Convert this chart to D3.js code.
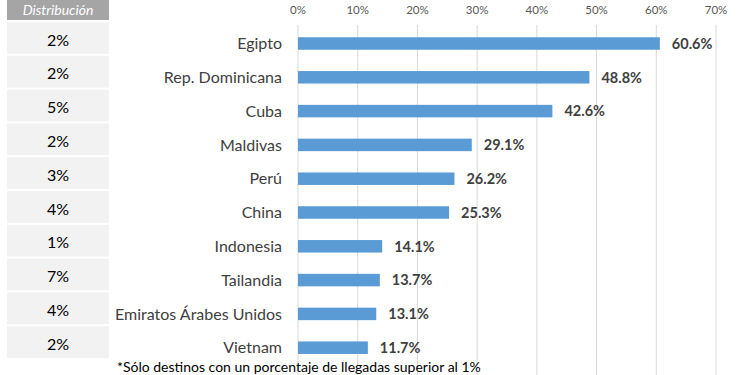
<!DOCTYPE html>
<html>
<head>
<meta charset="utf-8">
<script src="https://cdn.jsdelivr.net/npm/d3@7"></script>
<style>
  body { margin: 0; background: #fff; }
  svg { display: block; font-family: Lato, "Open Sans", sans-serif; }
</style>
</head>
<body>
<div id="chart"></div>
<script>
var paises = ["Egipto", "Rep. Dominicana", "Cuba", "Maldivas", "Perú", "China",
  "Indonesia", "Tailandia", "Emiratos Árabes Unidos", "Vietnam"];
var valores = [60.6, 48.8, 42.6, 29.1, 26.2, 25.3, 14.1, 13.7, 13.1, 11.7];
var distribucion = ["2%", "2%", "5%", "2%", "3%", "4%", "1%", "7%", "4%", "2%"];
var ticks = [0, 10, 20, 30, 40, 50, 60, 70];

var width = 750, height = 375;

var svg = d3.select("#chart").append("svg")
  .attr("width", width)
  .attr("height", height);

var x = d3.scaleLinear().domain([0, 70]).range([298, 716]);
var y = d3.scaleBand().domain(paises).range([26.6, 364.6]).paddingInner(0.63).paddingOuter(0.315);

// gridlines
svg.append("g").selectAll("line")
  .data(ticks)
  .enter().append("line")
  .attr("x1", d => x(d)).attr("x2", d => x(d))
  .attr("y1", 25).attr("y2", height)
  .attr("stroke", "#d9d9d9")
  .attr("stroke-width", 1);

// top axis labels
svg.append("g").selectAll("text")
  .data(ticks)
  .enter().append("text")
  .attr("x", d => x(d))
  .attr("y", 14)
  .attr("text-anchor", "middle")
  .attr("font-size", 11.5)
  .attr("fill", "#595959")
  .text(d => d + "%");

// bars
svg.append("g").selectAll("rect")
  .data(paises)
  .enter().append("rect")
  .attr("x", x(0))
  .attr("y", d => y(d))
  .attr("width", (d, i) => x(valores[i]) - x(0))
  .attr("height", y.bandwidth())
  .attr("fill", "#5b9bd5");

// value labels
svg.append("g").selectAll("text")
  .data(paises)
  .enter().append("text")
  .attr("x", (d, i) => x(valores[i]) + 12)
  .attr("y", d => y(d) + y.bandwidth() / 2)
  .attr("dy", "0.36em")
  .attr("font-size", 14.5)
  .attr("font-weight", "bold")
  .attr("fill", "#404040")
  .text((d, i) => valores[i].toFixed(1) + "%");

// category labels
svg.append("g").selectAll("text")
  .data(paises)
  .enter().append("text")
  .attr("x", 282)
  .attr("y", d => y(d) + y.bandwidth() / 2)
  .attr("dy", "0.36em")
  .attr("text-anchor", "end")
  .attr("font-size", 16)
  .attr("fill", "#404040")
  .text(d => d);

// distribution table
var step = y.step();
svg.append("rect")
  .attr("x", 7).attr("y", -2)
  .attr("width", 102).attr("height", 22)
  .attr("fill", "#a5a5a5");
svg.append("text")
  .attr("x", 58).attr("y", 15)
  .attr("text-anchor", "middle")
  .attr("font-size", 14)
  .attr("font-style", "italic")
  .attr("fill", "#fff")
  .text("Distribución");

var filas = svg.append("g").selectAll("g")
  .data(distribucion)
  .enter().append("g")
  .attr("transform", (d, i) => "translate(7," + (22 + i * step) + ")");
filas.append("rect")
  .attr("width", 102)
  .attr("height", step - 2)
  .attr("fill", "#f2f2f2");
filas.append("text")
  .attr("x", 51)
  .attr("y", (step - 2) / 2 + 2)
  .attr("dy", "0.36em")
  .attr("text-anchor", "middle")
  .attr("font-size", 16)
  .attr("fill", "#000")
  .text(d => d);

// footnote
svg.append("text")
  .attr("x", 117).attr("y", 371.5)
  .attr("font-size", 14)
  .attr("fill", "#000")
  .text("*Sólo destinos con un porcentaje de llegadas superior al 1%");
</script>
</body>
</html>
